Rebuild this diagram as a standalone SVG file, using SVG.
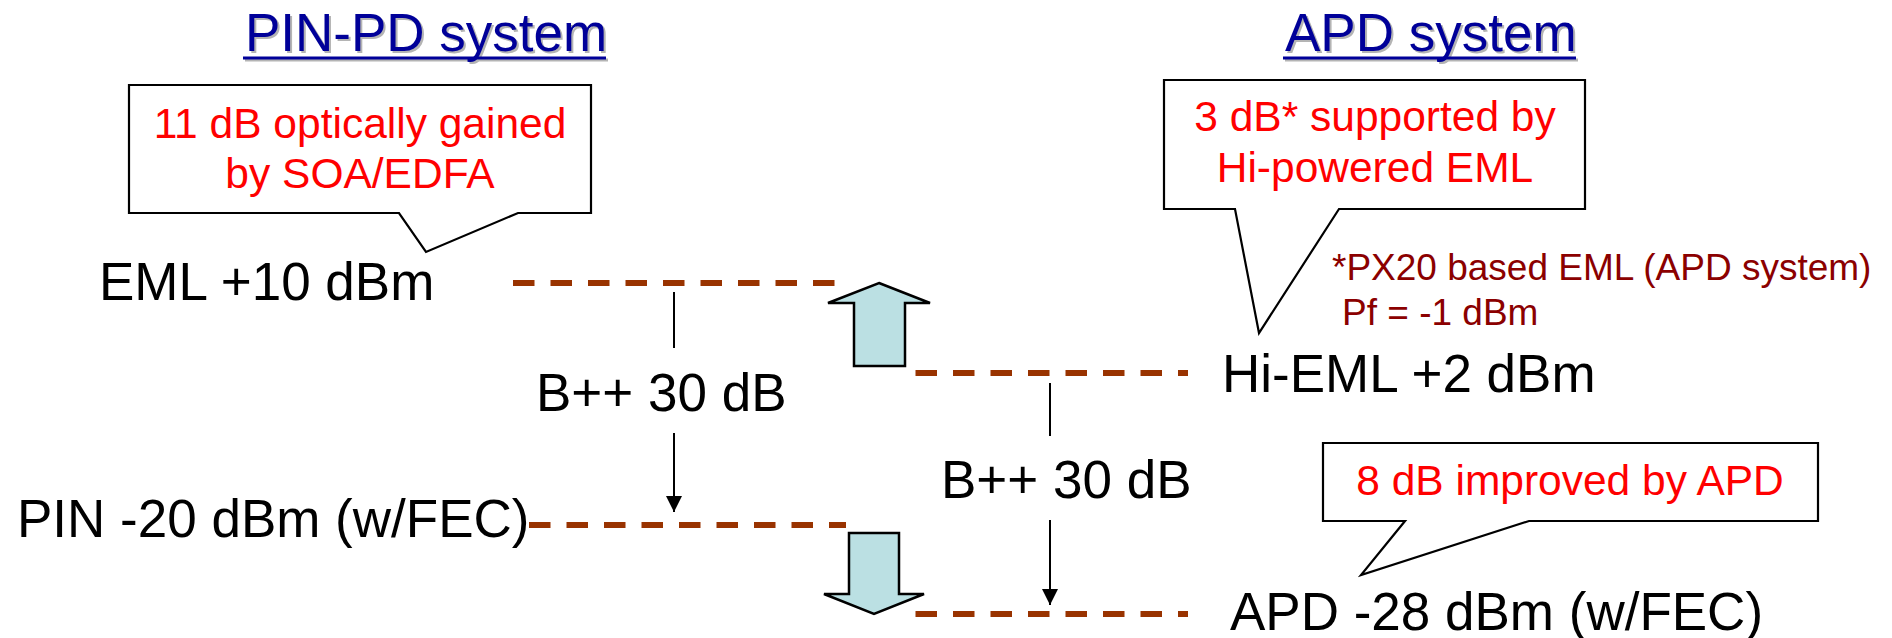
<svg xmlns="http://www.w3.org/2000/svg" width="1892" height="638" viewBox="0 0 1892 638">
<style>
.t{font-family:"Liberation Sans",Arial,sans-serif;font-size:53px;fill:#000}
.title{font-family:"Liberation Sans",Arial,sans-serif;font-size:53px;fill:#000099}
.shadow{font-family:"Liberation Sans",Arial,sans-serif;font-size:53px;fill:#B4B4B4}
.red{font-family:"Liberation Sans",Arial,sans-serif;font-size:42.5px;fill:#FF0000;text-anchor:middle}
.note{font-family:"Liberation Sans",Arial,sans-serif;font-size:37px;fill:#8B0000}
.dash{stroke:#993300;stroke-width:6;stroke-dasharray:21.5 16;fill:none}
.call{fill:#fff;stroke:#000;stroke-width:2.2}
.blk{fill:#BBE0E3;stroke:#000;stroke-width:2.5;stroke-linejoin:miter}
.vline{stroke:#000;stroke-width:2;fill:none}
</style>
<defs>
<marker id="ah" markerUnits="userSpaceOnUse" markerWidth="16" markerHeight="16" refX="16" refY="8" orient="auto">
<path d="M0,0 L16,8 L0,16 z" fill="#000"/>
</marker>
</defs>
<rect width="1892" height="638" fill="#fff"/>

<g id="title-pin">
<text class="shadow" x="247" y="53">PIN-PD system</text>
<line x1="245" y1="60" x2="608" y2="60" stroke="#B4B4B4" stroke-width="3"/>
<text class="title" x="245" y="51">PIN-PD system</text>
<line x1="243" y1="58" x2="606" y2="58" stroke="#000099" stroke-width="3"/>
</g>
<g id="title-apd">
<text class="shadow" x="1287" y="53">APD system</text>
<line x1="1285" y1="60" x2="1578" y2="60" stroke="#B4B4B4" stroke-width="3"/>
<text class="title" x="1285" y="51">APD system</text>
<line x1="1283" y1="58" x2="1576" y2="58" stroke="#000099" stroke-width="3"/>
</g>

<g id="connectors">
<line class="dash" x1="513" y1="283" x2="835" y2="283"/>
<line class="dash" x1="915.5" y1="373" x2="1188" y2="373"/>
<line class="dash" x1="529" y1="525" x2="846" y2="525"/>
<line class="dash" x1="915.5" y1="614" x2="1188" y2="614"/>
<line class="vline" x1="674" y1="292" x2="674" y2="348"/>
<line class="vline" x1="674" y1="433" x2="674" y2="512" marker-end="url(#ah)"/>
<line class="vline" x1="1050" y1="383" x2="1050" y2="436"/>
<line class="vline" x1="1050" y1="520" x2="1050" y2="605" marker-end="url(#ah)"/>
</g>

<g id="arrow-up">
<path class="blk" d="M879,283 L930,303 L905,303 L905,366 L854,366 L854,303 L828,303 Z"/>
</g>
<g id="arrow-down">
<path class="blk" d="M849,533 L899,533 L899,594 L924,594 L874,614 L824,594 L849,594 Z"/>
</g>

<g id="callout-soa">
<path class="call" d="M129,85 H591 V213 H518 L426,252 L399,213 H129 Z"/>
<text class="red" x="360" y="138">11 dB optically gained</text>
<text class="red" x="360" y="188">by SOA/EDFA</text>
</g>
<g id="callout-eml">
<path class="call" d="M1164,80 H1585 V209 H1339 L1259,333 L1235,209 H1164 Z"/>
<text class="red" x="1375" y="131">3 dB* supported by</text>
<text class="red" x="1375" y="182">Hi-powered EML</text>
</g>
<g id="callout-apd">
<path class="call" d="M1323,443 H1818 V521 H1529 L1361,575 L1405,521 H1323 Z"/>
<text class="red" x="1570" y="495">8 dB improved by APD</text>
</g>

<g id="note">
<text class="note" x="1332" y="280">*PX20 based EML (APD system)</text>
<text class="note" x="1342" y="325">Pf = -1 dBm</text>
</g>

<g id="eml"><text class="t" x="99" y="300">EML +10 dBm</text></g>
<g id="budget-pin"><text class="t" x="536" y="411">B++ 30 dB</text></g>
<g id="pin"><text class="t" x="17" y="537">PIN -20 dBm (w/FEC)</text></g>
<g id="hi-eml"><text class="t" x="1222" y="392">Hi-EML +2 dBm</text></g>
<g id="budget-apd"><text class="t" x="941" y="498">B++ 30 dB</text></g>
<g id="apd"><text class="t" x="1230" y="630">APD -28 dBm (w/FEC)</text></g>
</svg>
